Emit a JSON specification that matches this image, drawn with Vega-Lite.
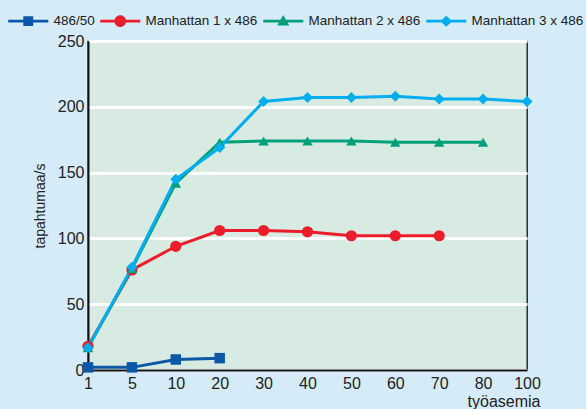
{
  "$schema": "https://vega.github.io/schema/vega-lite/v6.json",
  "width": 439,
  "height": 329,
  "autosize": {"type": "none"},
  "padding": {"left": 88, "top": 41, "right": 59, "bottom": 39},
  "background": "#d5ebf8",
  "config": {
    "font": "Liberation Sans",
    "view": {"fill": "#d8ebe3", "stroke": "#111111", "strokeWidth": 1.3},
    "axis": {"labelFont": "Liberation Sans", "titleFont": "Liberation Sans", "labelColor": "#222222", "titleColor": "#222222"},
    "legend": {
      "orient": "none", "legendX": -81, "legendY": -27, "direction": "horizontal",
      "padding": 0, "columnPadding": 4,
      "labelFontSize": 13.5, "labelColor": "#222222", "labelFont": "Liberation Sans",
      "symbolSize": 121, "symbolStrokeWidth": 0, "symbolOffset": 14.5, "labelOffset": 18.5, "symbolOpacity": 1
    }
  },
  "data": {
    "values": [
      {"x": 1, "y": 2, "series": "486/50"},
      {"x": 5, "y": 2, "series": "486/50"},
      {"x": 10, "y": 8, "series": "486/50"},
      {"x": 20, "y": 9, "series": "486/50"},
      {"x": 1, "y": 18, "series": "Manhattan 1 x 486"},
      {"x": 5, "y": 76, "series": "Manhattan 1 x 486"},
      {"x": 10, "y": 94, "series": "Manhattan 1 x 486"},
      {"x": 20, "y": 106, "series": "Manhattan 1 x 486"},
      {"x": 30, "y": 106, "series": "Manhattan 1 x 486"},
      {"x": 40, "y": 105, "series": "Manhattan 1 x 486"},
      {"x": 50, "y": 102, "series": "Manhattan 1 x 486"},
      {"x": 60, "y": 102, "series": "Manhattan 1 x 486"},
      {"x": 70, "y": 102, "series": "Manhattan 1 x 486"},
      {"x": 1, "y": 17, "series": "Manhattan 2 x 486"},
      {"x": 5, "y": 77, "series": "Manhattan 2 x 486"},
      {"x": 10, "y": 142, "series": "Manhattan 2 x 486"},
      {"x": 20, "y": 173, "series": "Manhattan 2 x 486"},
      {"x": 30, "y": 174, "series": "Manhattan 2 x 486"},
      {"x": 40, "y": 174, "series": "Manhattan 2 x 486"},
      {"x": 50, "y": 174, "series": "Manhattan 2 x 486"},
      {"x": 60, "y": 173, "series": "Manhattan 2 x 486"},
      {"x": 70, "y": 173, "series": "Manhattan 2 x 486"},
      {"x": 80, "y": 173, "series": "Manhattan 2 x 486"},
      {"x": 1, "y": 17, "series": "Manhattan 3 x 486"},
      {"x": 5, "y": 78, "series": "Manhattan 3 x 486"},
      {"x": 10, "y": 145, "series": "Manhattan 3 x 486"},
      {"x": 20, "y": 169, "series": "Manhattan 3 x 486"},
      {"x": 30, "y": 204, "series": "Manhattan 3 x 486"},
      {"x": 40, "y": 207, "series": "Manhattan 3 x 486"},
      {"x": 50, "y": 207, "series": "Manhattan 3 x 486"},
      {"x": 60, "y": 208, "series": "Manhattan 3 x 486"},
      {"x": 70, "y": 206, "series": "Manhattan 3 x 486"},
      {"x": 80, "y": 206, "series": "Manhattan 3 x 486"},
      {"x": 100, "y": 204, "series": "Manhattan 3 x 486"}
    ]
  },
  "encoding": {
    "x": {
      "field": "x", "type": "ordinal",
      "scale": {"type": "point", "padding": 0, "domain": [1, 5, 10, 20, 30, 40, 50, 60, 70, 80, 100]},
      "axis": {
        "title": "työasemia", "titleFontSize": 16, "titleFontWeight": "normal",
        "titleX": 452, "titleAlign": "right", "titlePadding": 2,
        "labelAngle": 0, "labelFontSize": 16, "labelPadding": 5,
        "ticks": false, "domainColor": "#111111", "domainWidth": 2, "grid": false
      }
    },
    "y": {
      "field": "y", "type": "quantitative",
      "scale": {"domain": [0, 250], "nice": false},
      "axis": {
        "title": "tapahtumaa/s", "titleFontSize": 14, "titleFontWeight": "normal", "titlePadding": 10,
        "values": [0, 50, 100, 150, 200, 250],
        "labelFontSize": 16, "labelPadding": 4, "ticks": false,
        "domainColor": "#111111", "domainWidth": 2,
        "grid": true, "gridColor": "#ffffff", "gridWidth": 3, "gridOpacity": 1
      }
    },
    "color": {
      "field": "series", "type": "nominal",
      "scale": {
        "domain": ["486/50", "Manhattan 1 x 486", "Manhattan 2 x 486", "Manhattan 3 x 486"],
        "range": ["#0a58a6", "#ec1d2b", "#00a07b", "#03aeee"]
      },
      "legend": {"title": null}
    }
  },
  "layer": [
    {
      "mark": {"type": "point", "filled": true, "opacity": 0},
      "encoding": {
        "shape": {
          "field": "series", "type": "nominal",
          "scale": {
            "domain": ["486/50", "Manhattan 1 x 486", "Manhattan 2 x 486", "Manhattan 3 x 486"],
            "range": [
              "M-3.64,-0.27H3.64V0.27H-3.64Z M-0.9,-0.9H0.9V0.9H-0.9Z",
              "M-3.64,-0.27H3.64V0.27H-3.64Z M1.05,0A1.05,1.05 0 1,1 -1.05,0A1.05,1.05 0 1,1 1.05,0Z",
              "M-3.64,-0.27H3.64V0.27H-3.64Z M0,-1.1L1.1,0.8H-1.1Z",
              "M-3.64,-0.27H3.64V0.27H-3.64Z M0,-1L1.1,0L0,1L-1.1,0Z"
            ]
          },
          "legend": {"title": null}
        }
      }
    },
    {
      "mark": {"type": "line", "strokeWidth": 3}
    },
    {
      "transform": [{"filter": "datum.series === '486/50'"}],
      "mark": {"type": "point", "filled": true, "opacity": 1, "size": 110, "shape": "square"}
    },
    {
      "transform": [{"filter": "datum.series === 'Manhattan 1 x 486'"}],
      "mark": {"type": "point", "filled": true, "opacity": 1, "size": 125, "shape": "circle"}
    },
    {
      "transform": [{"filter": "datum.series === 'Manhattan 2 x 486'"}],
      "mark": {"type": "point", "filled": true, "opacity": 1, "size": 110, "shape": "triangle-up"}
    },
    {
      "transform": [{"filter": "datum.series === 'Manhattan 3 x 486'"}],
      "mark": {"type": "point", "filled": true, "opacity": 1, "size": 120, "shape": "diamond"}
    }
  ]
}
